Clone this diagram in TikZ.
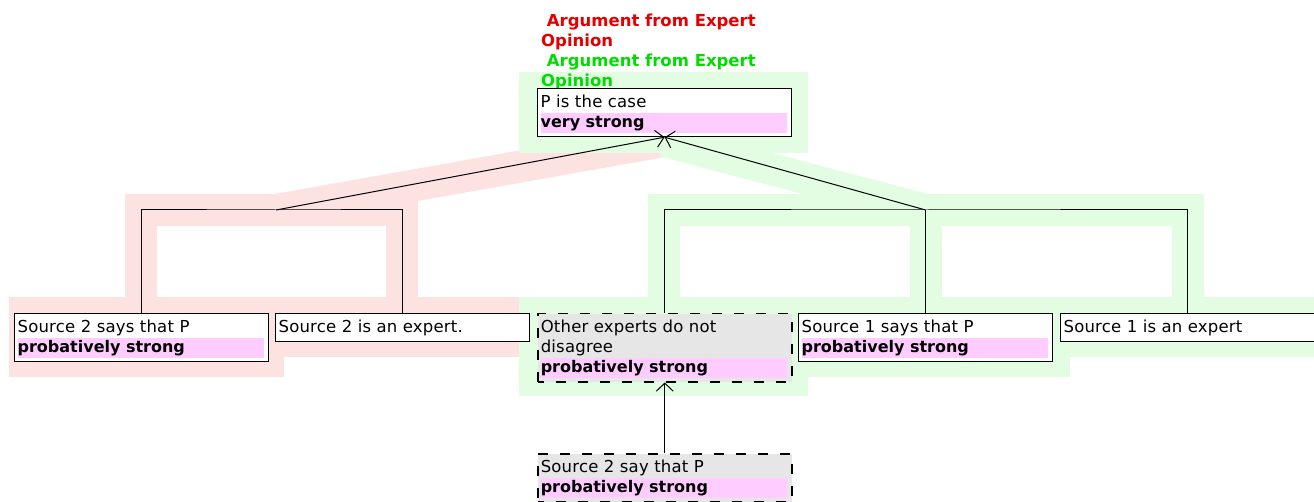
\documentclass[tikz,border=0pt]{standalone}
\usepackage{fontspec}
\newfontfamily\uifont[LetterSpace=1.2]{DejaVu Sans}
\newfontfamily\uiboldfont{DejaVu Sans}
\usetikzlibrary{arrows.meta}

\definecolor{haloRed}{RGB}{253,226,226}
\definecolor{haloGreen}{RGB}{226,253,226}
\definecolor{bandPink}{RGB}{255,204,255}
\definecolor{boxGray}{RGB}{230,230,230}
\definecolor{titleRed}{RGB}{228,0,0}
\definecolor{titleGreen}{RGB}{0,220,0}

\newcommand\uiline[1]{\rule[-5pt]{0pt}{20pt}#1}
\newcommand\strength[1]{{\setlength\fboxsep{0pt}\colorbox{bandPink}{\makebox[246pt][l]{\uiline{\uiboldfont\bfseries\fontsize{16pt}{20pt}\selectfont #1}}}}}

\begin{document}
\begin{tikzpicture}[x=1pt,y=-1pt,
  claim/.style={draw, line width=1.2pt, fill=white, anchor=north west,
    text width=248pt, inner xsep=3pt, inner ysep=4pt, align=left,
    font=\uifont\fontsize{16.5pt}{20pt}\selectfont},
  assumption/.style={claim, fill=boxGray, line width=1.5pt, dash pattern=on 10pt off 12pt, dash phase=4pt},
  scheme/.style={anchor=north west, inner sep=0pt, align=left,
    font=\uiboldfont\bfseries\fontsize{16.5pt}{20pt}\selectfont},
  link/.style={line width=1pt},
  support/.style={link, -{Straight Barb[length=8pt,width=17pt,line width=1pt]}},
  halo/.style={line width=32pt, line join=miter}]
  \useasboundingbox (0,0) rectangle (1314,502);

  % argument halos
  \fill[haloRed] (9,297) rectangle (284,377);
  \fill[haloRed] (259,297) rectangle (530,357);
  \draw[halo, haloRed] (141,313) |- (402,210) -- (402,313);
  \draw[halo, haloRed] (276,210) -- (664,141);
  \fill[haloGreen] (519,72) rectangle (808,153);
  \fill[haloGreen] (519,297) rectangle (808,396);
  \fill[haloGreen] (782,297) rectangle (1070,377);
  \fill[haloGreen] (1045,297) rectangle (1314,357);
  \draw[halo, haloGreen] (664,313) |- (1188,210) -- (1188,313);
  \draw[halo, haloGreen] (926,210) -- (926,313);
  \draw[halo, haloGreen] (926,210) -- (664,141);

  % scheme titles
  \node[scheme, text=titleRed] (titleR) at (541,11)
    {\uiline{\ Argument from Expert}\\\uiline{Opinion}};
  \node[scheme, text=titleGreen] (titleG) at (541,51)
    {\uiline{\ Argument from Expert}\\\uiline{Opinion}};

  % statements
  \node[claim] (concl) at (537,88) {\uiline{P is the case}\\\strength{very strong}};
  \node[claim] (s2says) at (14,313) {\uiline{Source 2 says that P}\\\strength{probatively strong}};
  \node[claim] (s2exp) at (275,313) {\uiline{Source 2 is an expert.}};
  \node[assumption] (noDis) at (537,313)
    {\uiline{Other experts do not}\\\uiline{disagree}\\\strength{probatively strong}};
  \node[claim] (s1says) at (798,313) {\uiline{Source 1 says that P}\\\strength{probatively strong}};
  \node[claim] (s1exp) at (1060,313) {\uiline{Source 1 is an expert}};
  \node[assumption] (s2say) at (537,453) {\uiline{Source 2 say that P}\\\strength{probatively strong}};

  % joins
  \coordinate (joinL) at (276,210);
  \coordinate (joinR) at (s1says.north |- joinL);
  \coordinate (tip) at (concl.south);

  \draw[link] (s2says.north) |- (joinL) -| (s2exp.north);
  \draw[support] (joinL) -- (tip);
  \draw[link] (noDis.north) |- (joinR) -| (s1exp.north);
  \draw[link] (s1says.north) -- (joinR);
  \draw[support] (joinR) -- (tip);
  \draw[support] (s2say.north) -- (noDis.south);
\end{tikzpicture}
\end{document}
